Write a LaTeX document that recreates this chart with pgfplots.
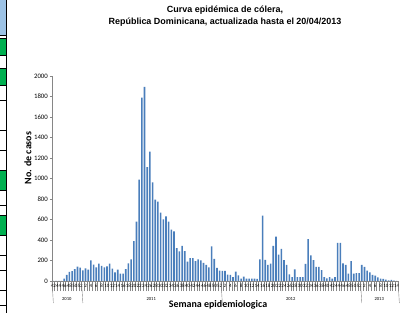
\documentclass[border=0pt]{standalone}
\usepackage{fontspec}
\setmainfont{Liberation Sans}
\newfontfamily\carl{Carlito}
\usepackage{pgfplots}
\pgfplotsset{compat=1.18}
\definecolor{barblue}{HTML}{4A7EBB}
\definecolor{axgray}{HTML}{868686}
\definecolor{xlgreen}{HTML}{00B050}
\definecolor{xlblue}{HTML}{9DC3E6}
\begin{document}
\begin{tikzpicture}[x=1bp,y=1bp]
\useasboundingbox (0,0) rectangle (400,313);
% left strip (spreadsheet edge)
\fill[xlblue] (0,278) rectangle (6,313);
\fill[xlgreen] (0,258) rectangle (6,275);
\fill[xlgreen] (0,228) rectangle (6,245);
\fill[xlgreen] (0,123) rectangle (6,143);
\fill[xlgreen] (0,78) rectangle (6,98);
\draw[line width=1pt] (6.5,0) -- (6.5,313);
\foreach \yy in {278,275,258,245,228,213,183,163,143,123,108,98,78,58,43,23,8}
  \draw[line width=0.8pt] (0,\yy) -- (6.5,\yy);
% title
\node[font=\bfseries\fontsize{9}{12}\selectfont, align=center] at (225,297)
  {Curva epidémica de cólera,\\República Dominicana, actualizada hasta el 20/04/2013};
\node[font=\carl\bfseries\fontsize{10}{12}\selectfont] at (218,8) {Semana epidemiologica};
\node[font=\carl\bfseries\fontsize{10}{12}\selectfont, rotate=90] at (28,155) {No. de casos};
\begin{axis}[
  at={(52bp,32bp)}, anchor=south west, scale only axis,
  width=346bp, height=205bp,
  xmin=-0.5, xmax=128.5, ymin=0, ymax=2000,
  clip=false,
  axis x line*=bottom, axis y line*=left,
  axis line style={axgray, line width=0.6pt},
  tick align=outside,
  major tick length=2.5bp,
  minor tick length=10bp,
  tick style={axgray, line width=0.4pt},
  major x tick style={draw=none},
  ytick={0,200,...,2000},
  yticklabel style={font=\carl\fontsize{6.8}{7}\selectfont, inner sep=1.5bp},
  /pgf/number format/assume math mode=true,
  /pgf/number format/1000 sep={},
  xtick={0,2,...,128},
  xticklabels={42,44,46,48,50,52,2,4,6,8,10,12,14,16,18,20,22,24,26,28,30,32,34,36,38,40,42,44,46,48,50,52,2,4,6,8,10,12,14,16,18,20,22,24,26,28,30,32,34,36,38,40,42,44,46,48,50,52,2,4,6,8,10,12,14},
  xticklabel style={font=\carl\fontsize{5}{5}\selectfont, inner sep=0.4bp, yshift=-0.3bp},
  minor xtick={-0.5,0.5,...,128.5},
  ybar, bar width=1.6bp,
]
\addplot[fill=barblue, draw=none] table[x expr=\coordindex, y=c, row sep=\\] {
c\\
0\\0\\0\\0\\23\\60\\90\\97\\117\\140\\130\\
103\\123\\110\\200\\160\\133\\170\\147\\133\\143\\
170\\120\\83\\110\\73\\73\\117\\173\\210\\390\\
580\\990\\1789\\1893\\1112\\1262\\961\\795\\775\\667\\
602\\631\\579\\500\\484\\320\\288\\343\\291\\190\\
222\\222\\195\\210\\200\\178\\157\\133\\337\\216\\
128\\100\\
98\\98\\62\\59\\39\\92\\56\\23\\42\\23\\
23\\23\\23\\20\\212\\638\\206\\157\\170\\343\\
432\\258\\314\\203\\157\\65\\39\\114\\39\\39\\
39\\167\\409\\249\\203\\137\\137\\105\\39\\26\\
39\\23\\39\\373\\373\\173\\157\\72\\193\\72\\
78\\78\\
157\\137\\100\\85\\60\\52\\35\\22\\20\\13\\6\\12\\3\\0\\
};
\draw[axgray, line width=0.4pt] (axis cs:-0.5,0) -- ++(0,-22bp);
\draw[axgray, line width=0.4pt] (axis cs:10.5,0) -- ++(0,-22bp);
\draw[axgray, line width=0.4pt] (axis cs:62.5,0) -- ++(0,-22bp);
\draw[axgray, line width=0.4pt] (axis cs:114.5,0) -- ++(0,-22bp);
\draw[axgray, line width=0.4pt] (axis cs:128.5,0) -- ++(0,-22bp);
\node[font=\carl\fontsize{4.6}{5}\selectfont] at ([yshift=-18.5bp]axis cs:5,0) {2010};
\node[font=\carl\fontsize{4.6}{5}\selectfont] at ([yshift=-18.5bp]axis cs:36.5,0) {2011};
\node[font=\carl\fontsize{4.6}{5}\selectfont] at ([yshift=-18.5bp]axis cs:88.5,0) {2012};
\node[font=\carl\fontsize{4.6}{5}\selectfont] at ([yshift=-18.5bp]axis cs:121.5,0) {2013};
\end{axis}
\end{tikzpicture}
\end{document}
